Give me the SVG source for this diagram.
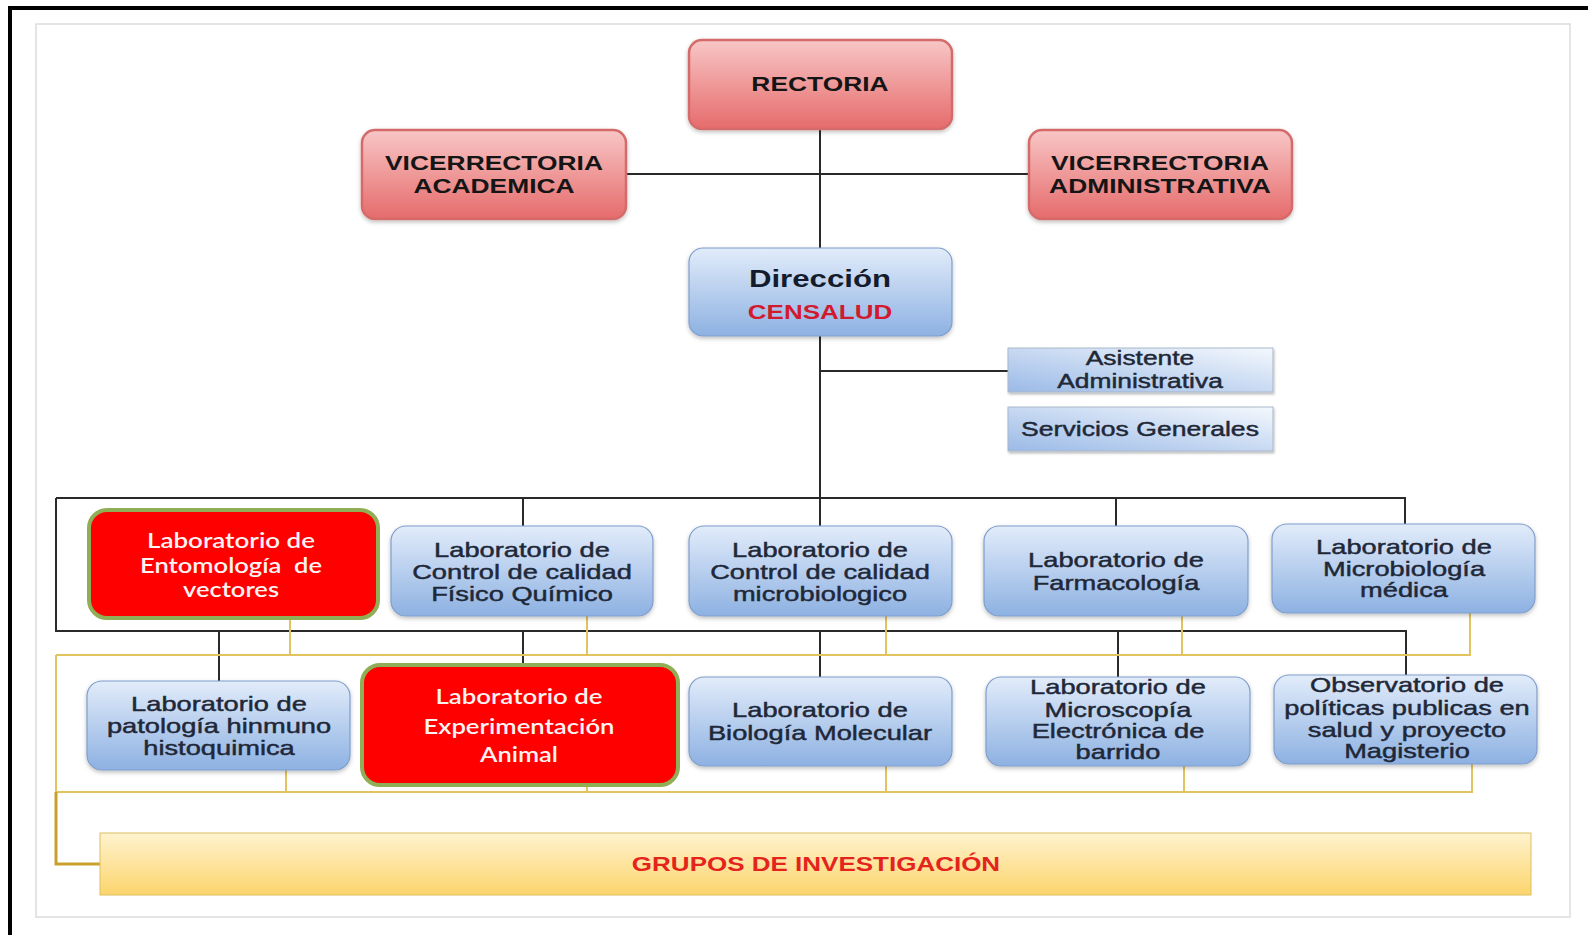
<svg xmlns="http://www.w3.org/2000/svg" width="1588" height="935" viewBox="0 0 1588 935">
<style>
.tb{font-family:"Liberation Sans",Arial,sans-serif;font-weight:bold;font-size:20px;fill:#151515;text-anchor:middle}
.tn{font-family:"Liberation Sans",Arial,sans-serif;font-size:20.5px;fill:#1f2838;stroke:#1f2838;stroke-width:0.45;text-anchor:middle}
.tw{font-family:Lato,"Open Sans",sans-serif;font-weight:600;font-size:21px;fill:#fff2f2;text-anchor:middle}
.pink{fill:url(#gPink);stroke:#d46b6b;stroke-width:2.5;filter:url(#sh)}
.blue{fill:url(#gBlue);stroke:#7f9ecb;stroke-width:1.2;filter:url(#sh)}
.lt{fill:url(#gLt);stroke:#a9b7c9;stroke-width:1;filter:url(#sh2)}
.red{fill:#fe0000;stroke:#8fae56;stroke-width:4}
.k{stroke:#2a2a2a;stroke-width:2;fill:none}
.y{stroke:#e3c35e;stroke-width:2;fill:none}
.yd{stroke:#c9a02c;stroke-width:3;fill:none}
</style>
<defs>
<linearGradient id="gPink" x1="0" y1="0" x2="0" y2="1"><stop offset="0" stop-color="#f8c6c6"/><stop offset="1" stop-color="#e66b6b"/></linearGradient>
<linearGradient id="gBlue" x1="0" y1="0" x2="0" y2="1"><stop offset="0" stop-color="#e2ecfa"/><stop offset="1" stop-color="#8db1e2"/></linearGradient>
<linearGradient id="gLt" x1="0" y1="1" x2="1" y2="0"><stop offset="0" stop-color="#9bbae7"/><stop offset="1" stop-color="#f4f8fd"/></linearGradient>
<linearGradient id="gYel" x1="0" y1="0" x2="0" y2="1"><stop offset="0" stop-color="#fff3cf"/><stop offset="1" stop-color="#fbd46c"/></linearGradient>
<filter id="sh" x="-10%" y="-10%" width="120%" height="130%"><feDropShadow dx="0" dy="2" stdDeviation="2" flood-color="#000" flood-opacity="0.25"/></filter>
<filter id="sh2" x="-10%" y="-10%" width="120%" height="130%"><feDropShadow dx="1" dy="2" stdDeviation="1" flood-color="#000" flood-opacity="0.25"/></filter>
</defs>
<rect width="1588" height="935" fill="#fff"/>
<line x1="8" y1="8" x2="1588" y2="8" stroke="#000" stroke-width="4"/>
<line x1="10" y1="6" x2="10" y2="935" stroke="#000" stroke-width="4"/>
<rect x="36" y="24" width="1534" height="893" fill="none" stroke="#dcdcdc" stroke-width="1.5"/>

<g id="connectors">
<path class="k" d="M820 129V526M626 174H1029M820 371H1008"/>
<path class="k" d="M56 498H1405V524M523 498V526M1116 498V526M56 498V631H1406V675M219 631V681M523 631V665M820 631V677M1118 631V677"/>
<path class="y" d="M290 618V655M587 616V655M886 616V655M1182 616V655M1470 613V655H56"/>
<path class="y" d="M286 770V792M587 785V792M886 766V792M1184 766V792M1472 764V792H56"/>
<path class="y" d="M56 655V862"/>
<path class="yd" d="M56 792V864H100"/>
</g>

<g id="rectoria"><rect class="pink" x="689" y="40" width="263" height="89" rx="13"/>
<g transform="translate(820,0) scale(1.32,1)"><text class="tb" x="0" y="91">RECTORIA</text></g></g>

<g id="vicerrectoria-academica"><rect class="pink" x="362" y="130" width="264" height="89" rx="13"/>
<g transform="translate(494,0) scale(1.32,1)"><text class="tb" x="0" y="170">VICERRECTORIA</text><text class="tb" x="0" y="193">ACADEMICA</text></g></g>

<g id="vicerrectoria-administrativa"><rect class="pink" x="1029" y="130" width="263" height="89" rx="13"/>
<g transform="translate(1160,0) scale(1.32,1)"><text class="tb" x="0" y="170">VICERRECTORIA</text><text class="tb" x="0" y="193">ADMINISTRATIVA</text></g></g>

<g id="direccion"><rect class="blue" x="689" y="248" width="263" height="88" rx="14"/>
<g transform="translate(820,0) scale(1.3,1)"><text class="tb" x="0" y="287" style="font-size:24px;fill:#141c2c">Dirección</text><text class="tb" x="0" y="319" style="fill:#d21a2e">CENSALUD</text></g></g>

<g id="asistente"><rect class="lt" x="1008" y="348" width="265" height="44"/>
<g transform="translate(1140,0) scale(1.32,1)"><text class="tn" x="0" y="365" style="font-size:20px">Asistente</text><text class="tn" x="0" y="388.5" style="font-size:20px">Administrativa</text></g></g>

<g id="servicios"><rect class="lt" x="1008" y="407" width="265" height="44"/>
<g transform="translate(1140,0) scale(1.33,1)"><text class="tn" x="0" y="436.5" style="font-size:20px">Servicios Generales</text></g></g>

<g id="lab-entomologia"><rect class="red" x="89" y="510" width="289" height="108" rx="18"/>
<text class="tw" x="231" y="547.5" textLength="168" lengthAdjust="spacingAndGlyphs">Laboratorio de</text>
<text class="tw" x="231" y="572.5" textLength="182" lengthAdjust="spacingAndGlyphs" xml:space="preserve" style="white-space:pre">Entomología  de</text>
<text class="tw" x="231" y="597" textLength="96" lengthAdjust="spacingAndGlyphs">vectores</text></g>

<g id="lab-fisico-quimico"><rect class="blue" x="391" y="526" width="262" height="90" rx="15"/>
<g transform="translate(522,0) scale(1.33,1)"><text class="tn" x="0" y="557">Laboratorio de</text><text class="tn" x="0" y="579">Control de calidad</text><text class="tn" x="0" y="601.5">Físico Químico</text></g></g>

<g id="lab-microbiologico"><rect class="blue" x="689" y="526" width="263" height="90" rx="15"/>
<g transform="translate(820,0) scale(1.33,1)"><text class="tn" x="0" y="557">Laboratorio de</text><text class="tn" x="0" y="579">Control de calidad</text><text class="tn" x="0" y="601.5">microbiologico</text></g></g>

<g id="lab-farmacologia"><rect class="blue" x="984" y="526" width="264" height="90" rx="15"/>
<g transform="translate(1116,0) scale(1.33,1)"><text class="tn" x="0" y="567">Laboratorio de</text><text class="tn" x="0" y="590">Farmacología</text></g></g>

<g id="lab-microbiologia-medica"><rect class="blue" x="1272" y="524" width="263" height="89" rx="15"/>
<g transform="translate(1404,0) scale(1.33,1)"><text class="tn" x="0" y="554">Laboratorio de</text><text class="tn" x="0" y="576">Microbiología</text><text class="tn" x="0" y="597.5">médica</text></g></g>

<g id="lab-patologia"><rect class="blue" x="87" y="681" width="263" height="89" rx="15"/>
<g transform="translate(219,0) scale(1.33,1)"><text class="tn" x="0" y="711">Laboratorio de</text><text class="tn" x="0" y="733">patología hinmuno</text><text class="tn" x="0" y="755.5">histoquimica</text></g></g>

<g id="lab-experimentacion"><rect class="red" x="362" y="665" width="316" height="120" rx="18"/>
<text class="tw" x="519" y="704" textLength="167" lengthAdjust="spacingAndGlyphs">Laboratorio de</text>
<text class="tw" x="519" y="734" textLength="191" lengthAdjust="spacingAndGlyphs">Experimentación</text>
<text class="tw" x="519" y="761.5" textLength="78" lengthAdjust="spacingAndGlyphs">Animal</text></g>

<g id="lab-biologia"><rect class="blue" x="689" y="677" width="263" height="89" rx="15"/>
<g transform="translate(820,0) scale(1.33,1)"><text class="tn" x="0" y="717">Laboratorio de</text><text class="tn" x="0" y="740">Biología Molecular</text></g></g>

<g id="lab-microscopia"><rect class="blue" x="986" y="677" width="264" height="89" rx="15"/>
<g transform="translate(1118,0) scale(1.33,1)"><text class="tn" x="0" y="694.5">Laboratorio de</text><text class="tn" x="0" y="717">Microscopía</text><text class="tn" x="0" y="738">Electrónica de</text><text class="tn" x="0" y="759.5">barrido</text></g></g>

<g id="observatorio"><rect class="blue" x="1274" y="675" width="263" height="89" rx="15"/>
<g transform="translate(1407,0) scale(1.33,1)"><text class="tn" x="0" y="692.5">Observatorio de</text><text class="tn" x="0" y="715">políticas publicas en</text><text class="tn" x="0" y="737">salud y proyecto</text><text class="tn" x="0" y="758.5">Magisterio</text></g></g>

<g id="grupos"><rect x="100" y="833" width="1431" height="62" fill="url(#gYel)" stroke="#dcc060" stroke-width="1"/>
<g transform="translate(816,0) scale(1.3,1)"><text class="tb" x="0" y="871" style="fill:#e4241c">GRUPOS DE INVESTIGACIÓN</text></g></g>
</svg>
